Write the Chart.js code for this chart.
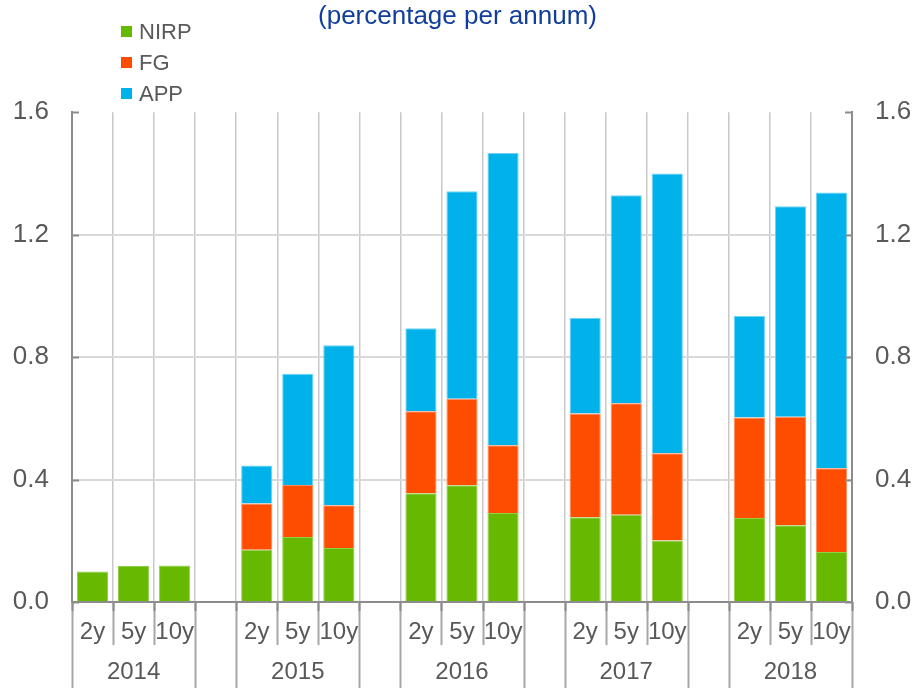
<!DOCTYPE html>
<html>
<head>
<meta charset="utf-8">
<script src="https://cdn.jsdelivr.net/npm/chart.js@4/dist/chart.umd.min.js"></script>
<style>
  body { margin: 0; background: #fff; }
  #wrap { position: relative; width: 915px; height: 688px; }
  #legend { position: absolute; left: 121px; top: 16px; font-family: "Liberation Sans", Arial, sans-serif; font-size: 22px; color: #595959; }
  #legend div { height: 31px; line-height: 31px; display: flex; align-items: center; }
  #legend span.box { width: 11px; height: 11px; margin-right: 7px; display: inline-block; }
</style>
</head>
<body>
<div id="wrap">
  <canvas id="chart"></canvas>
  <div id="legend"></div>
</div>
<script>
// du lieu doc tu hinh
const years = ["2014", "2015", "2016", "2017", "2018"];
const maturities = ["2y", "5y", "10y"];
// moi nam: 2y, 5y, 10y
const nirp = [0.100, 0.118, 0.119, 0.171, 0.212, 0.176, 0.355, 0.381, 0.291, 0.277, 0.285, 0.201, 0.274, 0.251, 0.163];
const fg = [null, null, null, 0.151, 0.170, 0.140, 0.268, 0.283, 0.221, 0.339, 0.364, 0.285, 0.329, 0.354, 0.274];
const app = [null, null, null, 0.124, 0.364, 0.523, 0.271, 0.678, 0.955, 0.312, 0.680, 0.914, 0.331, 0.688, 0.901];
const yTicks = [0, 0.4, 0.8, 1.2, 1.6];

// them o trong giua cac nam
function toSlots(vals) {
    let out = [];
    years.forEach((yr, i) => {
        if (i > 0) out.push(null);
        maturities.forEach((m, j) => out.push(vals[i * 3 + j]));
    });
    return out;
}

let labels = [];
let gapSlots = [];
years.forEach((yr, i) => {
    if (i > 0) { gapSlots.push(labels.length); labels.push(""); }
    maturities.forEach((m, j) => labels.push(j === 1 ? [m, yr] : m));
});

const datasets = [
    { label: "NIRP", data: toSlots(nirp), backgroundColor: "#66b800", borderColor: "#8fd04a" },
    { label: "FG", data: toSlots(fg), backgroundColor: "#ff4d00", borderColor: "#ff8a5a" },
    { label: "APP", data: toSlots(app), backgroundColor: "#00b2e9", borderColor: "#6fd3f5" },
];

// ve duong phan cach duoi truc x va vach truc y
const separators = {
    id: "separators",
    afterDraw(chart) {
        const { ctx, chartArea, scales } = chart;
        const x = scales.x;
        const n = labels.length;
        const step = x.getPixelForValue(1) - x.getPixelForValue(0);
        ctx.save();
        for (let i = 0; i <= n; i++) {
            const px = Math.round(x.getPixelForValue(i) - step / 2) + 0.5;
            const full = i === 0 || i === n || gapSlots.includes(i) || gapSlots.includes(i - 1);
            ctx.strokeStyle = "#a6a6a6";
            ctx.lineWidth = 2;
            ctx.beginPath();
            ctx.moveTo(px, chartArea.bottom);
            ctx.lineTo(px, full ? chart.height : chartArea.bottom + 43);
            ctx.stroke();
            ctx.strokeStyle = "#8c8c8c";
            ctx.beginPath();
            ctx.moveTo(px, chartArea.bottom);
            ctx.lineTo(px, chartArea.bottom + 9);
            ctx.stroke();
        }
        // vach nho huong vao trong
        ctx.strokeStyle = "#8c8c8c";
        ctx.lineWidth = 2;
        yTicks.forEach((v) => {
            const py = Math.round(scales.y.getPixelForValue(v)) + 0.5;
            ctx.beginPath();
            ctx.moveTo(chartArea.left, py);
            ctx.lineTo(chartArea.left + 7, py);
            ctx.moveTo(chartArea.right, py);
            ctx.lineTo(chartArea.right - 7, py);
            ctx.stroke();
        });
        ctx.restore();
    },
};

const tickFont = { family: "Liberation Sans", size: 26 };

const chart = new Chart(document.getElementById("chart"), {
    type: "bar",
    data: {
        labels: labels,
        datasets: datasets.map((d) => ({
            ...d,
            borderWidth: 1,
            barPercentage: 0.76,
            categoryPercentage: 1,
        })),
    },
    options: {
        responsive: true,
        maintainAspectRatio: false,
        animation: false,
        layout: { padding: 0 },
        plugins: {
            legend: { display: false },
            tooltip: { enabled: false },
            title: {
                display: true,
                text: "(percentage per annum)",
                color: "#113d9c",
                font: { family: "Liberation Sans", size: 26, weight: "normal", lineHeight: 1.2 },
                padding: { top: 1, bottom: 80 },
            },
        },
        scales: {
            x: {
                stacked: true,
                grid: { color: "#c8c8c8", lineWidth: 1.5, drawTicks: false },
                border: { color: "#8c8c8c", width: 2 },
                ticks: {
                    color: "#595959",
                    font: { family: "Liberation Sans", size: 24, lineHeight: 40 / 24 },
                    padding: 10,
                    maxRotation: 0,
                    autoSkip: false,
                },
                afterFit: (s) => { s.height = 86; },
            },
            y: {
                stacked: true,
                min: 0,
                max: 1.6,
                afterBuildTicks: (s) => { s.ticks = yTicks.map((v) => ({ value: v })); },
                grid: {
                    color: (c) => (c.tick && c.tick.value > 0 && c.tick.value < 1.6 ? "#d9d9d9" : "rgba(0,0,0,0)"),
                    lineWidth: 2,
                    drawTicks: false,
                },
                border: { color: "#8c8c8c", width: 2 },
                ticks: { color: "#595959", font: tickFont, padding: 23, callback: (v) => Number(v).toFixed(1) },
                afterFit: (s) => { s.width = 72; },
            },
            y2: {
                position: "right",
                min: 0,
                max: 1.6,
                afterBuildTicks: (s) => { s.ticks = yTicks.map((v) => ({ value: v })); },
                grid: { display: false, drawTicks: false },
                border: { display: true, color: "#8c8c8c", width: 2 },
                ticks: { color: "#595959", font: tickFont, padding: 23, callback: (v) => Number(v).toFixed(1) },
                afterFit: (s) => { s.width = 63; },
            },
        },
    },
    plugins: [separators],
});

// chu thich
const legendEl = document.getElementById("legend");
datasets.forEach((d) => {
    const row = document.createElement("div");
    row.innerHTML = `<span class="box" style="background:${d.backgroundColor}"></span>${d.label}`;
    legendEl.appendChild(row);
});
</script>
</body>
</html>
